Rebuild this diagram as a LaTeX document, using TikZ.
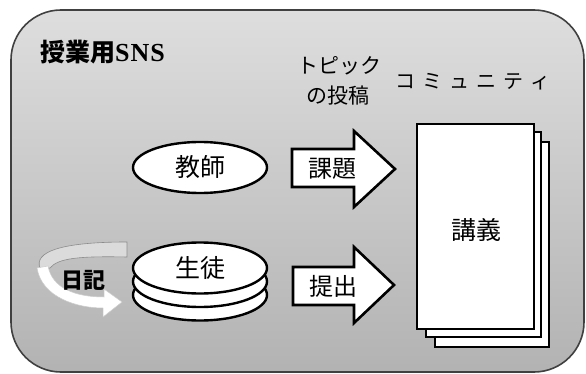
\documentclass[tikz,border=0pt]{standalone}
\usepackage{fontspec}
\usetikzlibrary{shapes.geometric}
\newfontfamily\jp{Noto Sans CJK JP}
\newfontfamily\lser{Liberation Serif}
\begin{document}
\begin{tikzpicture}[x=1pt,y=-1pt,
  disk/.style={ellipse, draw=black, line width=2.4pt, fill=white, minimum width=134pt, minimum height=51pt, inner sep=0pt},
  pagebox/.style={rectangle, draw=black, line width=2.6pt, fill=white, inner sep=0pt},
  blockarrow/.style={draw=black, line width=2.6pt, fill=white, line join=miter},
  lbl/.style={inner sep=0pt, font=\jp\fontsize{25}{25}\selectfont},
  small/.style={inner sep=0pt, font=\jp\fontsize{20}{20}\selectfont}]
\useasboundingbox (0,0) rectangle (586,374);
\path[draw=black!75, line width=1.6pt, rounded corners=50pt, top color=black!13, bottom color=black!30]
  (11,10) rectangle (584,372);
% title
\node[anchor=west, inner sep=0pt] (title) at (40,52)
  {\jp\bfseries\fontsize{25}{25}\selectfont 授業用\lser\bfseries\fontsize{26}{26}\selectfont S\kern1ptN\kern1ptS};
% topic texts
\node[small, font=\jp\fontsize{21}{21}\selectfont] (topic1) at (339,66) {トピック};
\node[small, font=\jp\fontsize{21}{21}\selectfont] (topic2) at (338,96) {の投稿};
\node[small] (community) at (473,82) {コ\kern7ptミ\kern7ptュ\kern7ptニ\kern7ptテ\kern7ptィ};
% teacher
\node[disk, lbl] (teacher) at (200,167.5) {教師};
% students stack
\node[disk] (s3) at (200,295) {};
\node[disk] (s2) at (200,281.5) {};
\node[disk, lbl] (student) at (200,268) {生徒};
% diary swirl
\path[draw=black!45, line width=0.6pt, fill=black!14]
  (40,268) .. controls (34,252) and (60,242) .. (127,242) -- (127,257)
  .. controls (80,256) and (58,258) .. (50,268) -- cycle;
\path[fill=white, draw=black!20, line width=0.5pt]
  (37,268) .. controls (42,298) and (78,308) .. (103,308)
  -- (103,317) -- (122,302) -- (104,289) -- (104,297)
  .. controls (75,297) and (52,288) .. (48,266) -- cycle;
\node[inner sep=0pt, font=\jp\bfseries\fontsize{22}{22}\selectfont] (diary) at (83,280) {日記};
% pages
\node[pagebox, minimum width=114pt, minimum height=205pt] (p3) at (492,244.5) {};
\node[pagebox, minimum width=115pt, minimum height=205pt] (p2) at (483.5,234.5) {};
\node[pagebox, minimum width=117pt, minimum height=205pt] (lecture) at (475.5,226.5) {};
\node[lbl] (lecturetext) at (476,230) {講義};
% block arrows
\path[blockarrow] (292,149) -- (354,149) -- (354,131) -- (395,169) -- (354,207) -- (354,187) -- (292,187) -- cycle;
\node[lbl, font=\jp\fontsize{24}{24}\selectfont] (task) at (332,169) {課題};
\path[blockarrow] (293,267) -- (354,267) -- (354,247) -- (394,285) -- (354,323) -- (354,305) -- (293,305) -- cycle;
\node[lbl, font=\jp\fontsize{24}{24}\selectfont] (submit) at (333,286) {提出};
\end{tikzpicture}
\end{document}
